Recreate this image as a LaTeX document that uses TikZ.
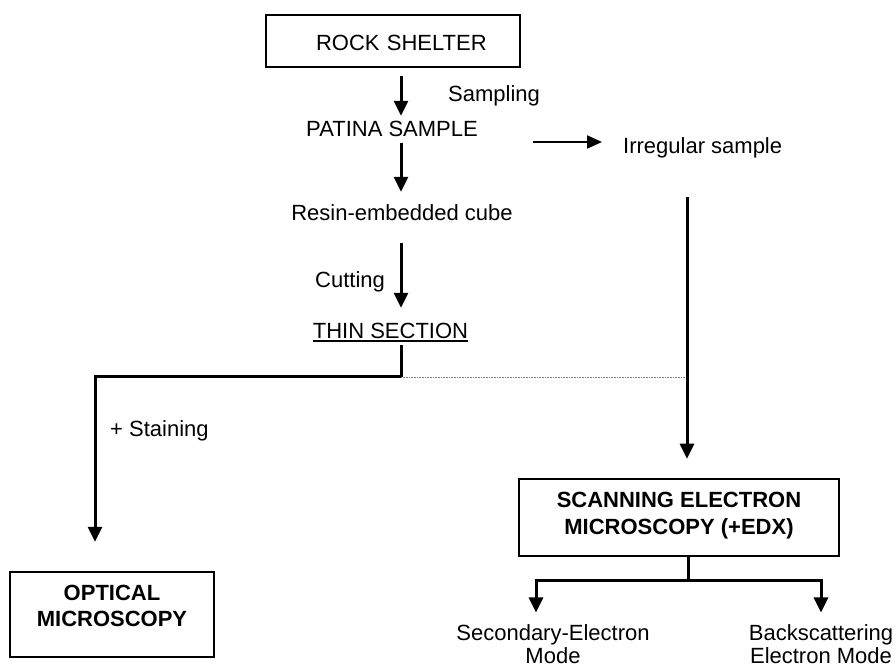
\documentclass[tikz,border=0pt]{standalone}
\usepackage{fontspec}
\setmainfont{Liberation Sans}
\usetikzlibrary{arrows.meta,calc}

\begin{document}
\begin{tikzpicture}[x=1pt,y=-1pt,
  txt/.style={inner sep=0pt, font=\fontsize{22}{23}\selectfont,
    text height=16pt, text depth=0pt},
  modetxt/.style={inner sep=0pt, font=\fontsize{22}{22.5}\selectfont, align=center},
  boxnode/.style={draw, line width=2.5pt, inner sep=0pt, align=center,
    font=\fontsize{22}{27}\bfseries\selectfont},
  arr/.style={line width=3pt, -{Triangle[width=14pt,length=15pt]}},
  plain/.style={line width=3pt},
  faint/.style={line width=0.8pt, gray, dash pattern=on 0.8pt off 0.8pt}]
\useasboundingbox (0,0) rectangle (895,668);

% boxes
\node[boxnode, minimum width=254pt, minimum height=52pt, text height=20pt, text depth=0pt,
  text width=240pt, align=left, font=\fontsize{22}{23}\selectfont]
  (rock) at (393,41) {\hspace*{43pt}ROCK SHELTER};
\node[boxnode, minimum width=320pt, minimum height=77pt, text depth=8pt] (sem) at (679,517.5)
  {SCANNING ELECTRON\\MICROSCOPY (+EDX)};
\node[boxnode, minimum width=204pt, minimum height=85pt, text depth=18pt,
  font=\fontsize{22}{26}\bfseries\selectfont] (optical) at (112,614.5) {OPTICAL\\MICROSCOPY};

% plain text steps
\node[txt] (patina) at (392,129) {PATINA SAMPLE};
\node[txt] (resin) at (402,213) {Resin-embedded cube};
\node[txt] (thin) at (390.5,331) {THIN SECTION};
\node[txt, anchor=west] (irregular) at (623,146) {Irregular sample};
\node[txt, anchor=west] (sampling) at (448,94) {Sampling};
\node[txt, anchor=west] (cutting) at (315,280) {Cutting};
\node[txt, anchor=west] (staining) at (110,429) {+ Staining};
\node[modetxt] (secondary) at (553,644) {Secondary-Electron\\Mode};
\node[modetxt] (backscatter) at (821,644) {Backscattering\\Electron Mode};

% underline of the thin section label
\draw[line width=1.6pt] ([yshift=-2pt]thin.south west) -- ([yshift=-2pt]thin.south east);

% axis of the main chain and junctions
\coordinate (cx) at (401,0);
\coordinate (rx) at (687,0);
\coordinate (split) at (401,377);
\coordinate (left) at (95,377);
\coordinate (semfork) at (688,580);

% main chain
\draw[arr] ($(rock.south -| cx)+(0,8)$) -- ($(patina.north -| cx)+(0,-5)$);
\draw[arr] ($(patina.south -| cx)+(0,6)$) -- ($(resin.north -| cx)+(0,-13)$);
\draw[arr] ($(resin.south -| cx)+(0,22)$) -- ($(thin.north -| cx)+(0,-15)$);

% thin section to optical microscopy
\draw[plain] ($(thin.south -| cx)+(0,6)$) -- (split);
\draw[arr] (split) -- (left) -- ($(optical.north -| left)+(0,-29)$);
\draw[faint] (split) -- (split -| rx);

% irregular sample branch
\draw[line width=2.2pt, -{Triangle[width=13pt,length=15pt]}]
  ($(patina.east)+(55,13)$) -- ($(irregular.west)+(-21,-4)$);
\draw[arr] ($(irregular.south -| rx)+(0,43)$) -- ($(sem.north -| rx)+(0,-19)$);

% SEM modes
\draw[plain] (sem.south -| semfork) -- (semfork);
\draw[arr] (semfork) -| ($(secondary.north -| 536,0)+(0,-12)$);
\draw[arr] (semfork) -| ($(backscatter.north)+(0,-12)$);
\end{tikzpicture}
\end{document}
